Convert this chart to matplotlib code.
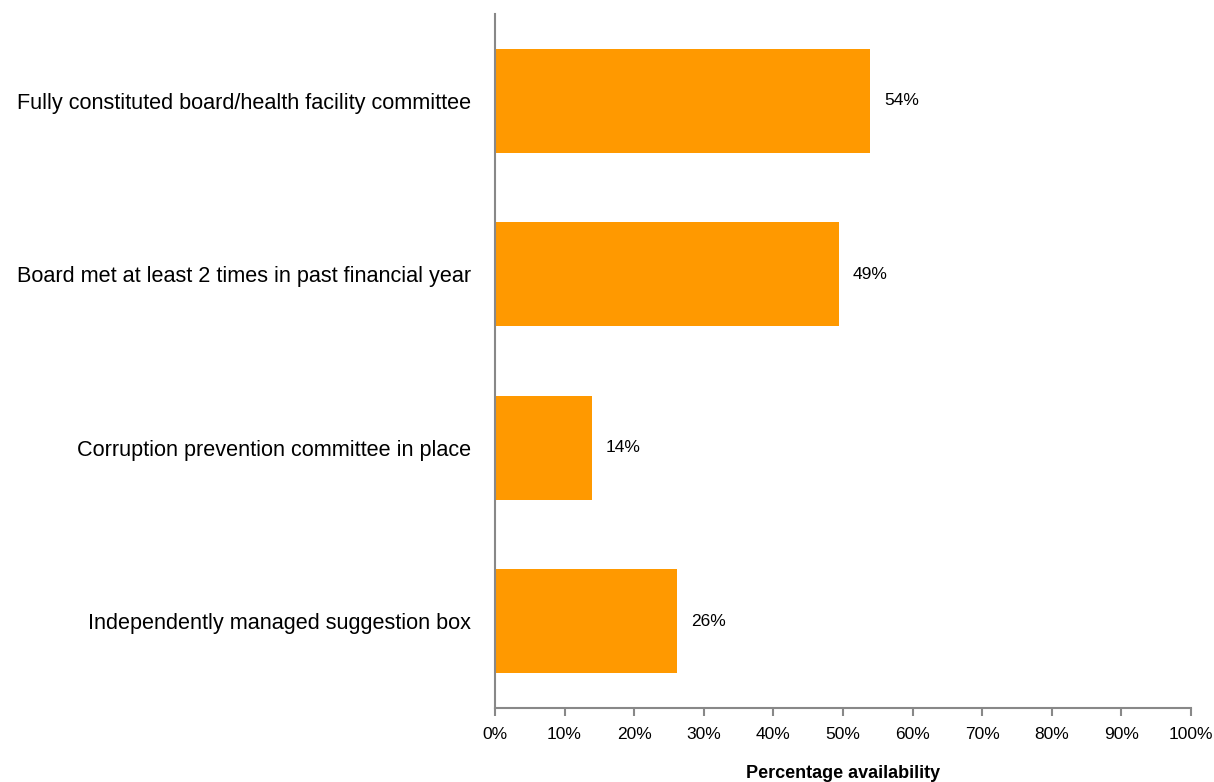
import numpy as np
import matplotlib
matplotlib.use("Agg")
import matplotlib.pyplot as plt
from matplotlib.ticker import PercentFormatter

plt.rcParams['font.family'] = ['Liberation Sans', 'DejaVu Sans']

categories = ["Fully constituted board/health facility committee",
              "Board met at least 2 times in past financial year",
              "Corruption prevention committee in place",
              "Independently managed suggestion box"]
values = [53.9, 49.4, 13.9, 26.2]
value_labels = ["54%", "49%", "14%", "26%"]

fig = plt.figure(figsize=(12.14, 7.82), dpi=100)
ax = fig.add_axes([0.4077, 0.0946, 0.5733, 0.8875])

y = np.arange(len(categories))
bars = ax.barh(y, values, height=0.6, color='#FF9900')
ax.set_ylim(len(categories) - 0.5, -0.5)
ax.set_xlim(0, 100)

for b, lab in zip(bars, value_labels):
    ax.text(b.get_width() + 2, b.get_y() + b.get_height() / 2, lab,
            va='center', ha='left', fontsize=12.5)

ax.set_yticks(y)
ax.set_yticklabels(categories, fontsize=15.6)
ax.tick_params(axis='y', length=0, pad=17)
ax.set_xticks(np.arange(0, 101, 10))
ax.xaxis.set_major_formatter(PercentFormatter(decimals=0))
ax.tick_params(axis='x', labelsize=12.5, length=6, width=1.5, color='#888888', pad=8)

for s in ['top', 'right']:
    ax.spines[s].set_visible(False)
for s in ['left', 'bottom']:
    ax.spines[s].set_color('#888888')
    ax.spines[s].set_linewidth(1.5)

ax.set_xlabel("Percentage availability", fontsize=13, fontweight='bold', labelpad=16)

fig.savefig("out.png", dpi=100)
